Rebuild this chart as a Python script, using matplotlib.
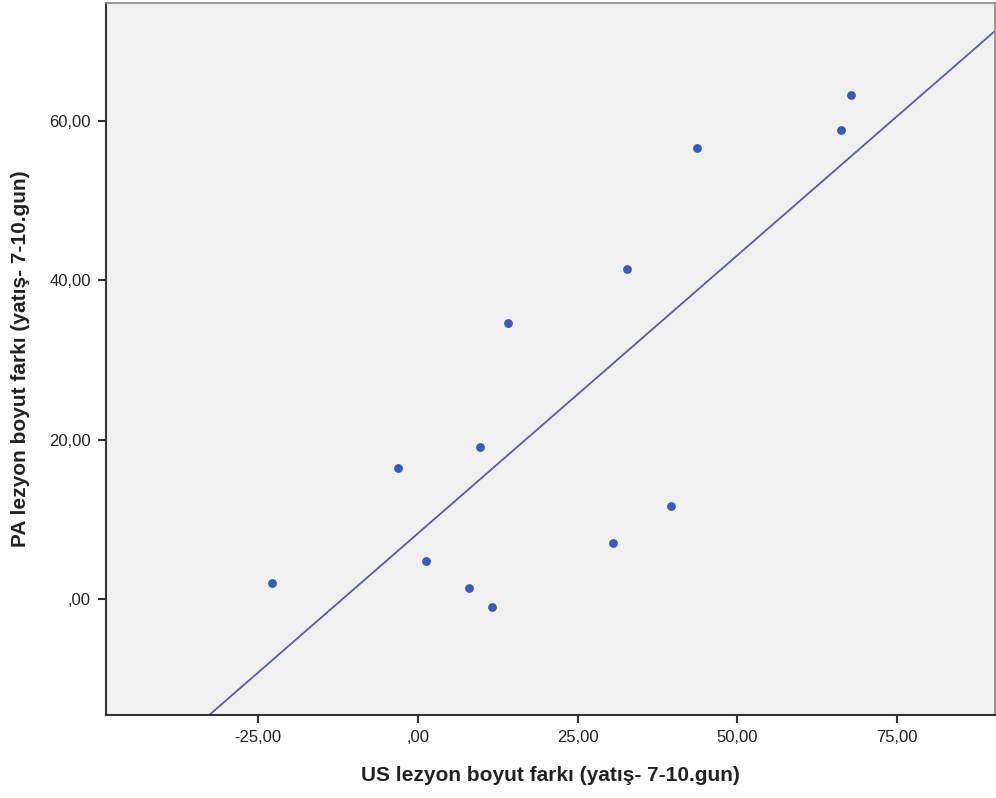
import matplotlib
matplotlib.use('Agg')
import matplotlib.pyplot as plt
import numpy as np

# US vs PA lesion size differences
us_diff = [-22.8, -3.0, 1.25, 8.1, 11.6, 9.7, 14.2, 30.6, 32.8, 39.7, 43.75, 66.25, 67.7]
pa_diff = [2.0, 16.5, 4.75, 1.4, -0.9, 19.1, 34.6, 7.1, 41.4, 11.75, 56.6, 58.9, 63.25]
x_ticks = [-25, 0, 25, 50, 75]
y_ticks = [0, 20, 40, 60]

plt.rcParams['font.family'] = ['Liberation Sans', 'DejaVu Sans']

fig = plt.figure(figsize=(9.96, 7.98), dpi=100)
ax = fig.add_axes([0.1064, 0.104, 0.8926, 0.892])
ax.set_facecolor('#f0f0f0')

ax.scatter(us_diff, pa_diff, s=40, color='#3a5bb5', zorder=3, linewidths=0)

# least squares fit line across the whole x range
xlim = (-48.75, 90.3)
slope, intercept = np.polyfit(us_diff, pa_diff, 1)
xs = np.array(xlim)
ax.plot(xs, slope * xs + intercept, color='#5b5b9f', lw=1.3, zorder=2)

ax.set_xlim(*xlim)
ax.set_ylim(-14.5, 74.75)
ax.set_xticks(x_ticks)
ax.set_yticks(y_ticks)

def fmt(v):
    s = f"{v:.2f}".replace('.', ',')
    if s.startswith('0,'):
        s = s[1:]
    return s

ax.set_xticklabels([fmt(v) for v in x_ticks])
ax.set_yticklabels([fmt(v) for v in y_ticks])
ax.tick_params(labelsize=12, length=6, width=1.5, color='#333333', labelcolor='#222222', pad=5)

for side in ['left', 'bottom']:
    ax.spines[side].set_color('#333333')
    ax.spines[side].set_linewidth(1.5)
for side in ['top', 'right']:
    ax.spines[side].set_color('#888888')
    ax.spines[side].set_linewidth(1.2)

ax.set_xlabel('US lezyon boyut farkı (yatış- 7-10.gun)', fontsize=15, fontweight='bold',
              color='#222222', labelpad=15)
ax.set_ylabel('PA lezyon boyut farkı (yatış- 7-10.gun)', fontsize=15, fontweight='bold',
              color='#222222', labelpad=14)

fig.savefig('out.png', dpi=100)
